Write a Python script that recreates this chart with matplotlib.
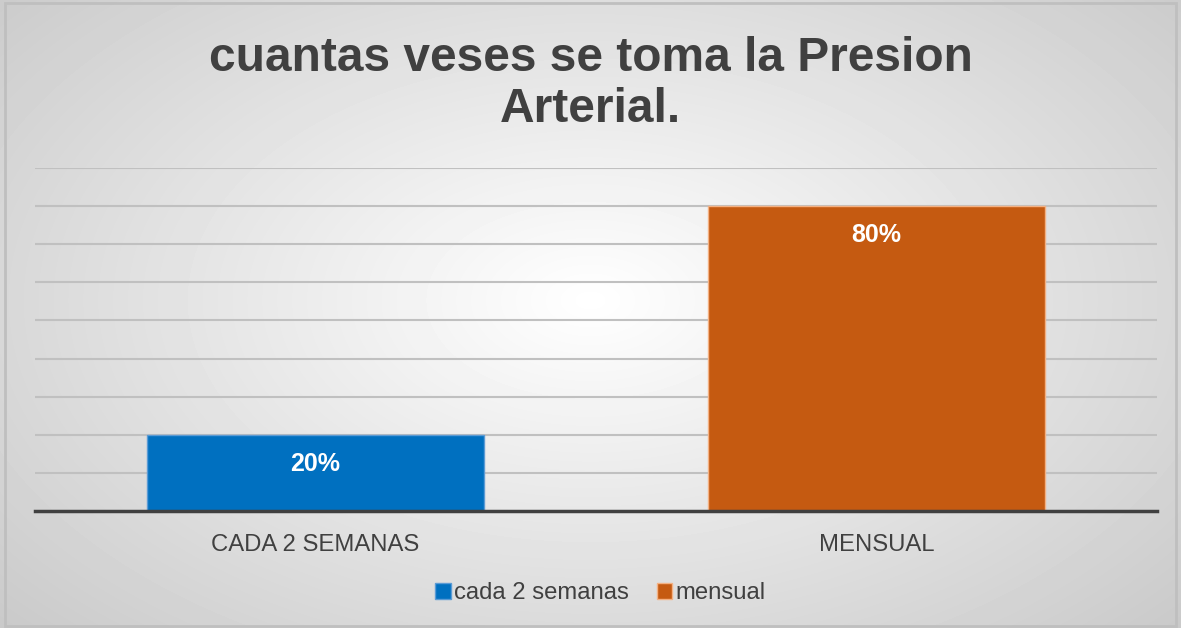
import numpy as np
from matplotlib import pyplot as plt
from matplotlib.patches import Patch

plt.rcParams['font.family'] = ['Liberation Sans', 'DejaVu Sans']

categories = ['CADA 2 SEMANAS', 'MENSUAL']
series_names = ['cada 2 semanas', 'mensual']
values = [0.20, 0.80]
colors = ['#0070c0', '#c55a11']
edge_colors = ['#5b9bd5', '#f4b183']
title = 'cuantas veses se toma la Presion\nArterial.'

fig = plt.figure(figsize=(11.81, 6.28), dpi=100)

# radial gradient background
bg = fig.add_axes([0, 0, 1, 1])
yy, xx = np.mgrid[0:628, 0:1181]
r = np.sqrt(((xx - 590) / 700.0) ** 2 + ((yy - 300) / 420.0) ** 2)
shade = 1.0 - 0.22 * np.clip(r, 0, 1.2) / 1.2
bg.imshow(shade, cmap='gray', vmin=0, vmax=1, aspect='auto', extent=[0, 1, 0, 1])
bg.add_patch(plt.Rectangle((0.004, 0.003), 0.992, 0.992, fill=False, edgecolor='#bfbfbf', lw=2))
bg.set_xlim(0, 1)
bg.set_ylim(0, 1)
bg.axis('off')

ax = fig.add_axes([35 / 1181, 1 - 511 / 628, (1157 - 35) / 1181, (511 - 168) / 628])
ax.patch.set_alpha(0)
x = np.arange(len(categories))
bars = ax.bar(x, values, width=0.6, color=colors, edgecolor=edge_colors, linewidth=1, zorder=3)

for b, v in zip(bars, values):
    ax.text(b.get_x() + b.get_width() / 2, v - 0.077, f'{v:.0%}', ha='center', va='center',
            color='white', fontsize=18, fontweight='bold', zorder=4)

ax.set_xlim(-0.5, 1.5)
ax.set_ylim(0, 0.9)
ax.set_yticks(np.arange(0.1, 0.91, 0.1))
ax.yaxis.grid(True, color='#c0c0c0', lw=1.5, zorder=1)
ax.tick_params(axis='y', left=False, labelleft=False)
ax.tick_params(axis='x', bottom=False, pad=13, labelsize=17.2, labelcolor='#404040')
ax.set_xticks(x)
ax.set_xticklabels(categories)
for s in ['top', 'right', 'left']:
    ax.spines[s].set_visible(False)
ax.spines['bottom'].set_color('#404040')
ax.spines['bottom'].set_linewidth(2.5)
ax.spines['bottom'].set_zorder(5)

fig.text(0.5, 1 - 84 / 628, title, ha='center', va='center', fontsize=34.5, fontweight='bold',
         color='#404040', linespacing=1.17)

handles = [Patch(facecolor=c, edgecolor=e) for c, e in zip(colors, edge_colors)]
fig.legend(handles, series_names, loc='center', bbox_to_anchor=(0.5 + 10 / 1181, 1 - 593 / 628), ncol=2,
           frameon=False, fontsize=17.2, handlelength=0.65, handleheight=0.65, handletextpad=0.15,
           columnspacing=1.15, labelcolor='#404040')

plt.savefig('out.png')
